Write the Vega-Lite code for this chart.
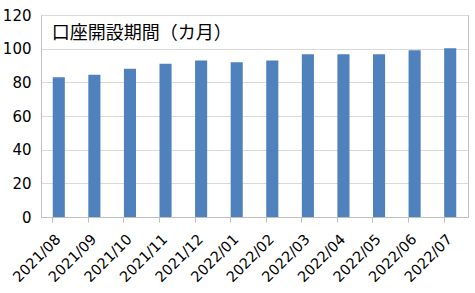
{
  "$schema": "https://vega.github.io/schema/vega-lite/v6.json",
  "autosize": "none",
  "width": 427,
  "height": 202,
  "padding": {"left": 41, "top": 15, "right": 7, "bottom": 76},
  "background": "white",
  "data": {
    "values": [
      {"month": "2021/08", "value": 83},
      {"month": "2021/09", "value": 84.5},
      {"month": "2021/10", "value": 88},
      {"month": "2021/11", "value": 91},
      {"month": "2021/12", "value": 93},
      {"month": "2022/01", "value": 92},
      {"month": "2022/02", "value": 93},
      {"month": "2022/03", "value": 96.7},
      {"month": "2022/04", "value": 96.7},
      {"month": "2022/05", "value": 96.7},
      {"month": "2022/06", "value": 99},
      {"month": "2022/07", "value": 100.3}
    ]
  },
  "layer": [
    {
      "mark": {"type": "bar", "color": "#4F81BD"},
      "encoding": {
        "x": {
          "field": "month",
          "type": "ordinal",
          "sort": null,
          "scale": {"paddingInner": 0.66, "paddingOuter": 0.33},
          "axis": {
            "title": null,
            "labelAngle": -45,
            "labelAlign": "right",
            "labelBaseline": "middle",
            "labelFontSize": 14.5,
            "labelFont": "DejaVu Sans",
            "labelColor": "#000000",
            "labelPadding": 15,
            "labelOverlap": false,
            "bandPosition": 0,
            "labelOffset": 0,
            "tickColor": "#BFBFBF",
            "tickSize": 5,
            "domainColor": "#BFBFBF",
            "grid": false
          }
        },
        "y": {
          "field": "value",
          "type": "quantitative",
          "scale": {"domain": [0, 120], "nice": false},
          "axis": {
            "title": null,
            "values": [0, 20, 40, 60, 80, 100, 120],
            "labelOverlap": false,
            "ticks": false,
            "labelPadding": 10,
            "labelFontSize": 15,
            "labelFont": "DejaVu Sans",
            "labelColor": "#000000",
            "domainColor": "#BFBFBF",
            "gridColor": "#D9D9D9"
          }
        }
      }
    },
    {
      "data": {"values": [{"label": "口座開設期間（カ月）"}]},
      "mark": {
        "type": "text",
        "align": "left",
        "baseline": "middle",
        "dx": -7,
        "fontSize": 18,
        "font": "Noto Sans CJK JP",
        "color": "#000000"
      },
      "encoding": {
        "x": {"datum": "2021/08"},
        "y": {
          "datum": 108.5,
          "type": "quantitative",
          "axis": {
            "title": null,
            "values": [0, 20, 40, 60, 80, 100, 120],
            "labelOverlap": false,
            "ticks": false,
            "labelPadding": 10,
            "labelFontSize": 15,
            "labelFont": "DejaVu Sans",
            "labelColor": "#000000",
            "domainColor": "#BFBFBF",
            "gridColor": "#D9D9D9"
          }
        },
        "text": {"field": "label"}
      }
    }
  ],
  "config": {
    "view": {"stroke": "#BFBFBF"}
  }
}
